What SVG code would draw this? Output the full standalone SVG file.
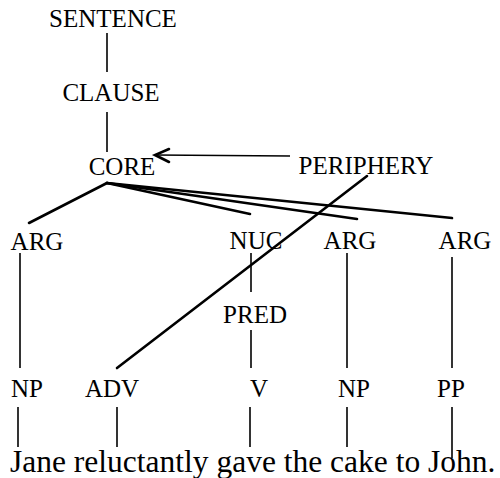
<svg xmlns="http://www.w3.org/2000/svg" width="500" height="478" viewBox="0 0 500 478">
<style>
text{font-family:"Liberation Serif","Times New Roman",serif;font-size:25px;fill:#000;text-anchor:middle}
.s{font-size:31.5px;text-anchor:start}
.v{stroke:#000;stroke-width:1.6;fill:none}
.d{stroke:#000;stroke-width:2.6;fill:none;stroke-linecap:round}
</style>
<rect width="500" height="478" fill="#fff"/>
<g id="connectors">
<line class="v" x1="107" y1="33" x2="107" y2="72"/>
<line class="v" x1="107" y1="112" x2="107" y2="152"/>
<line class="v" x1="290" y1="156" x2="155" y2="155"/>
<polyline class="d" points="169,149 155,155 169,162"/>
<line class="d" x1="107" y1="183" x2="29" y2="223"/>
<line class="d" x1="107" y1="183" x2="250" y2="214"/>
<line class="d" x1="107" y1="183" x2="357" y2="219"/>
<line class="d" x1="107" y1="183" x2="452" y2="218"/>
<line class="d" x1="367" y1="176" x2="117" y2="368"/>
<line class="v" x1="20" y1="253" x2="20" y2="368"/>
<line class="v" x1="251" y1="253" x2="251" y2="292"/>
<line class="v" x1="251" y1="330" x2="251" y2="368"/>
<line class="v" x1="347" y1="253" x2="347" y2="368"/>
<line class="v" x1="452" y1="257" x2="452" y2="368"/>
<line class="v" x1="18" y1="407" x2="18" y2="447"/>
<line class="v" x1="117" y1="407" x2="117" y2="447"/>
<line class="v" x1="250" y1="407" x2="250" y2="447"/>
<line class="v" x1="347" y1="407" x2="347" y2="447"/>
<line class="v" x1="452" y1="407" x2="452" y2="458"/>
</g>
<g id="sentence"><text x="113" y="27">SENTENCE</text></g>
<g id="clause"><text x="111" y="101">CLAUSE</text></g>
<g id="core"><text x="122" y="175">CORE</text></g>
<g id="periphery"><text x="366" y="174">PERIPHERY</text></g>
<g id="arg1"><text x="37" y="250">ARG</text></g>
<g id="nuc"><text x="256" y="249">NUC</text></g>
<g id="arg2"><text x="350" y="249">ARG</text></g>
<g id="arg3"><text x="465" y="249">ARG</text></g>
<g id="pred"><text x="255" y="323">PRED</text></g>
<g id="np1"><text x="27" y="397">NP</text></g>
<g id="adv"><text x="112" y="397">ADV</text></g>
<g id="v"><text x="259" y="397">V</text></g>
<g id="np2"><text x="354" y="397">NP</text></g>
<g id="pp"><text x="451" y="397">PP</text></g>
<g id="words"><text class="s" x="10" y="472">Jane reluctantly gave the cake to John.</text></g>
</svg>
